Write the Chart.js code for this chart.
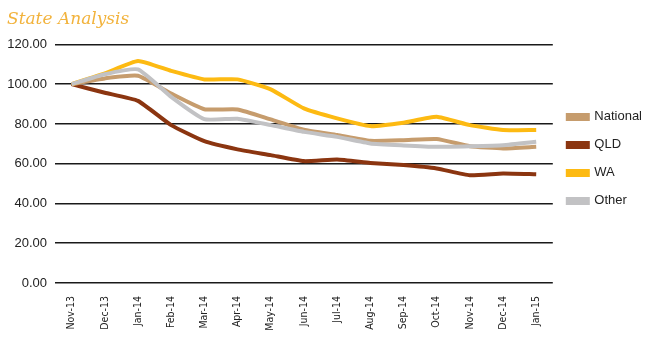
<!DOCTYPE html>
<html>
<head>
<meta charset="utf-8">
<script src="https://cdn.jsdelivr.net/npm/chart.js@4/dist/chart.umd.min.js"></script>
<style>
  html, body { margin: 0; padding: 0; background: #ffffff; }
  #wrap { position: relative; width: 652px; height: 345px; }
</style>
</head>
<body>
<div id="wrap"><canvas id="stateChart"></canvas></div>
<script>
// datos
const months = ['Nov-13', 'Dec-13', 'Jan-14', 'Feb-14', 'Mar-14', 'Apr-14', 'May-14', 'Jun-14',
                'Jul-14', 'Aug-14', 'Sep-14', 'Oct-14', 'Nov-14', 'Dec-14', 'Jan-15'];
const national = [100, 102.9, 104.2, 95.3, 87.4, 87.3, 82.3, 77.1, 74.4, 71.5, 71.8, 72.4, 68.8, 67.7, 68.5];
const qld      = [100, 95.7, 91.6, 79.4, 71.3, 67.2, 64.3, 61.3, 62.1, 60.4, 59.3, 57.6, 54.2, 55.1, 54.7];
const wa       = [100, 105.4, 111.7, 106.7, 102.4, 102.4, 97.4, 87.8, 82.8, 78.9, 80.6, 83.6, 79.4, 76.9, 77.0];
const other    = [100, 105.0, 107.4, 93.6, 82.4, 82.6, 79.4, 76.0, 73.5, 70.2, 69.2, 68.5, 68.8, 69.3, 71.0];
const yTicks   = [0, 20, 40, 60, 80, 100, 120];

function serie(label, data, color, order) {
    return {
        label: label,
        data: data,
        borderColor: color,
        backgroundColor: color,
        borderWidth: 4,
        pointRadius: 0,
        tension: 0.15,
        fill: false,
        order: order
    };
}

const ctx = document.getElementById('stateChart').getContext('2d');

new Chart(ctx, {
    type: 'line',
    data: {
        labels: months,
        datasets: [
            serie('National', national, '#C69C6D', 2),
            serie('QLD', qld, '#8B3510', 3),
            serie('WA', wa, '#FDBA12', 1),
            serie('Other', other, '#C2C2C4', 0)
        ]
    },
    options: {
        responsive: true,
        maintainAspectRatio: false,
        animation: false,
        layout: {
            padding: { left: 7, right: 0, top: 0, bottom: 4 }
        },
        plugins: {
            title: {
                display: true,
                text: 'State Analysis',
                align: 'start',
                color: '#F2B33D',
                font: { family: '"DejaVu Serif", serif', size: 17, style: 'italic', weight: 'normal' },
                padding: { top: 9, bottom: 15 }
            },
            legend: {
                display: true,
                position: 'right',
                align: 'start',
                title: {
                    display: true,
                    text: '',
                    font: { size: 12 },
                    padding: { top: 81, bottom: 0 }
                },
                labels: {
                    color: '#222222',
                    boxWidth: 20,
                    boxHeight: 4,
                    padding: 15,
                    font: { family: '"Liberation Sans Narrow", "Liberation Sans", sans-serif', size: 13 },
                    sort: (a, b) => a.datasetIndex - b.datasetIndex
                }
            },
            tooltip: { enabled: false }
        },
        scales: {
            y: {
                min: 0,
                max: 120,
                afterBuildTicks: (axis) => { axis.ticks = yTicks.map(v => ({ value: v })); },
                afterFit: (axis) => { axis.width = 48; },
                border: { display: false },
                grid: {
                    color: '#1a1a1a',
                    lineWidth: 1.5,
                    drawTicks: false
                },
                ticks: {
                    padding: 8,
                    color: '#222222',
                    font: { family: '"Liberation Sans", Arial, sans-serif', size: 13 },
                    callback: (v) => Number(v).toFixed(2)
                }
            },
            x: {
                offset: true,
                afterFit: (axis) => { axis.height = 58; },
                border: { display: false },
                grid: { display: false },
                ticks: {
                    minRotation: 90,
                    maxRotation: 90,
                    padding: 5,
                    color: '#222222',
                    font: { family: '"DejaVu Sans Condensed", "Liberation Sans", sans-serif', size: 10.5 }
                }
            }
        }
    }
});
</script>
</body>
</html>
